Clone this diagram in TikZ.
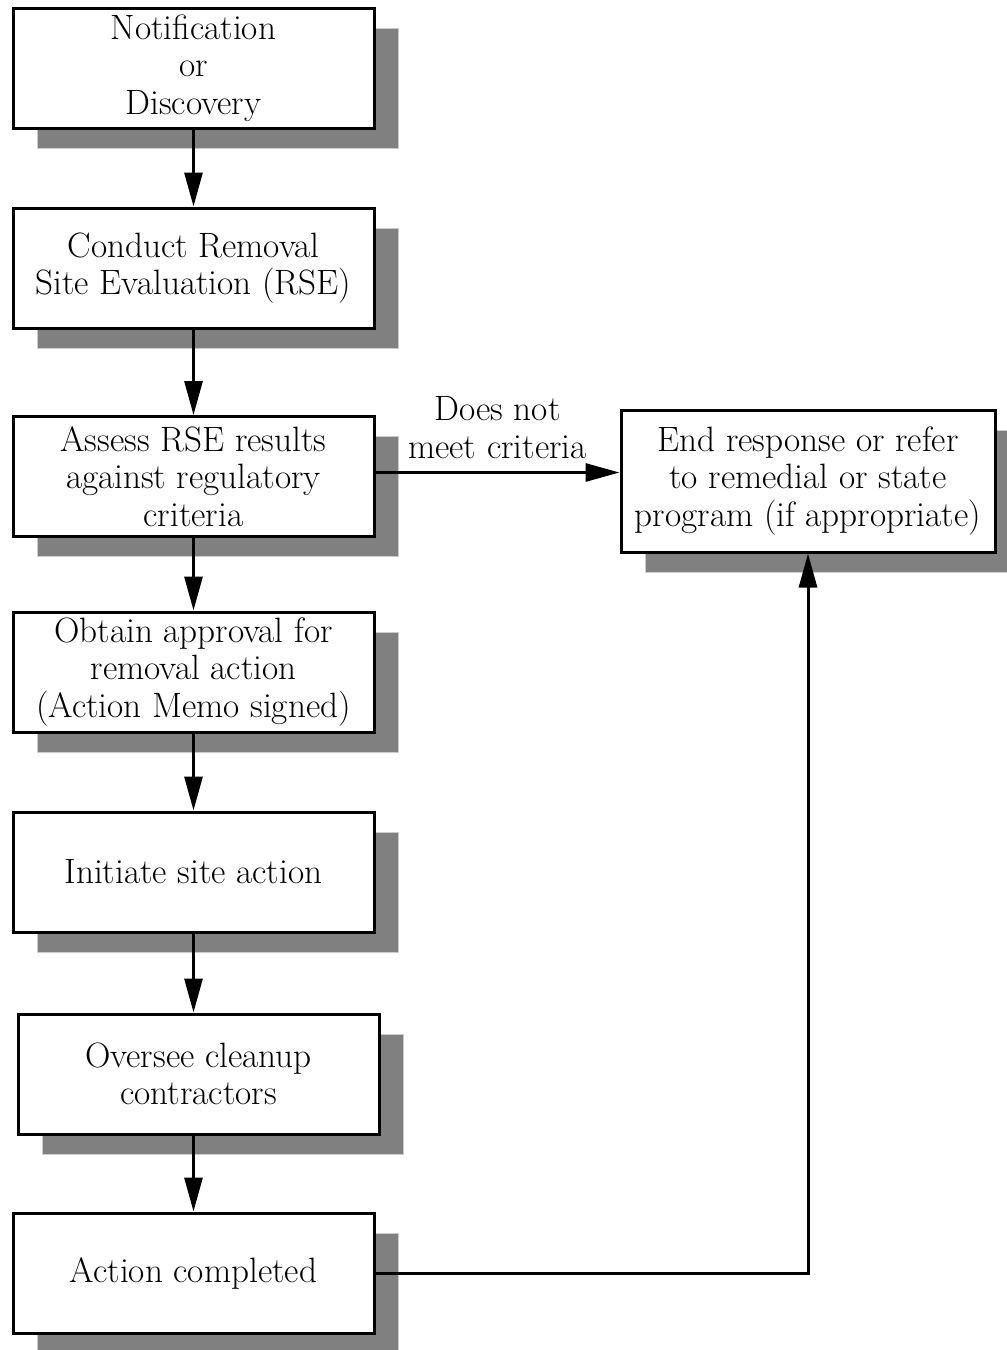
\documentclass[tikz,border=0pt]{standalone}
\usetikzlibrary{positioning,shadows,arrows.meta}

\begin{document}
\begin{tikzpicture}[x=0.5pt,y=-0.5pt,
        StepBox/.style={
            draw,
            line width=1.5pt,
            fill=white,
            minimum width=180.5pt,
            minimum height=60pt,
            inner sep=1pt,
            align=center,
            font=\fontsize{17.6}{18.7}\selectfont,
            drop shadow={shadow xshift=12pt,shadow yshift=-10pt,fill=black!50,draw=black!20,line width=0.5pt,opacity=1}
        },
        FlowArrow/.style={
            line width=1.5pt,
            -{Triangle[length=17pt,width=9pt]}
        }
    ]
    \useasboundingbox (0,0) rectangle (1007,1350);
    
    %process steps
    \node[StepBox] (Notice) at (193.5,68) {Notification\\or\\Discovery};
    \node[StepBox] (Conduct) at (193.5,268) {Conduct Removal\\Site Evaluation (RSE)};
    \node[StepBox] (Assess) at (193.5,476.5) {Assess RSE results\\against regulatory\\criteria};
    \node[StepBox] (Approve) at (193.5,672) {Obtain approval for\\removal action\\(Action Memo signed)};
    \node[StepBox] (Initiate) at (193.5,872) {Initiate site action};
    \node[StepBox] (Oversee) at (198.5,1074) {Oversee cleanup\\contractors};
    \node[StepBox] (Done) at (193.5,1273) {Action completed};
    
    %end box
    \node[StepBox,minimum width=187pt,minimum height=71pt] (End) at (808,481) {End response or refer\\to remedial or state\\program (if appropriate)};
    
    %connections
    \draw[FlowArrow] (Notice.south)--(Conduct.north);
    \draw[FlowArrow] (Conduct.south)--(Assess.north);
    \draw[FlowArrow] (Assess.south)--(Approve.north);
    \draw[FlowArrow] (Approve.south)--(Initiate.north);
    \draw[FlowArrow] (Initiate.south)--(Initiate.south |- Oversee.north);
    \draw[FlowArrow] (Initiate.south |- Oversee.south)--(Done.north);
    \draw[FlowArrow] ([yshift=2pt]Assess.east)--([yshift=2pt]End.west |- Assess.east)node[midway,above=3pt,align=center,font=\fontsize{17.6}{18.7}\selectfont] (NoMeet){Does not\\meet criteria};
    \draw[FlowArrow] (Done.east)-|(End.south);
    
\end{tikzpicture}
\end{document}
